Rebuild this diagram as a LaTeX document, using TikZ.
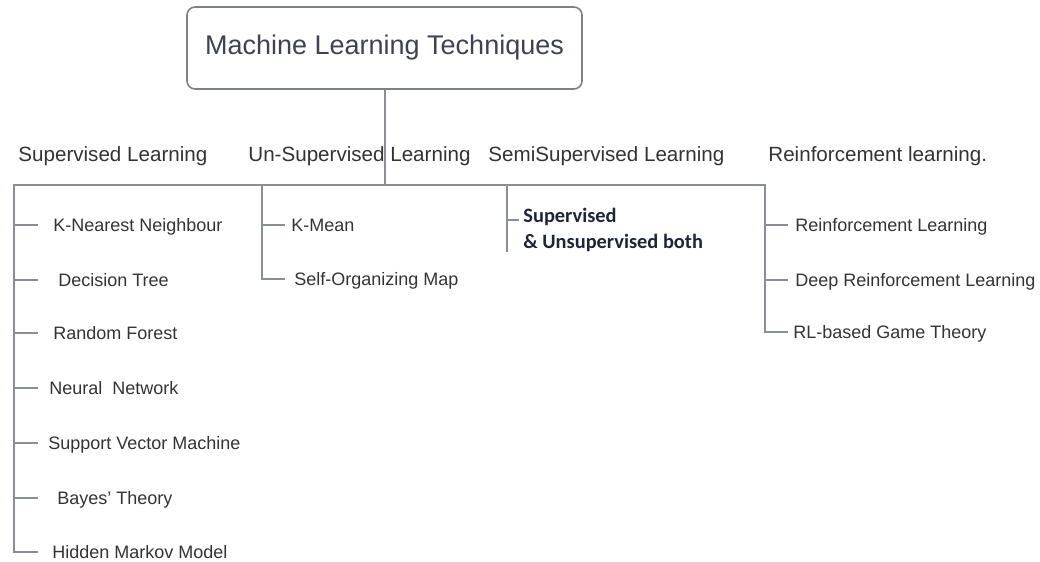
\documentclass[tikz,border=0pt]{standalone}
\usepackage{fontspec}
\setmainfont{Liberation Sans}
\newfontfamily\semifont{Carlito}
\usetikzlibrary{positioning}

\definecolor{linegray}{HTML}{8A8E95}
\definecolor{boxline}{HTML}{7D8188}
\definecolor{ink}{HTML}{333333}
\definecolor{rootink}{HTML}{3D4350}
\definecolor{semiink}{HTML}{1E2536}

\begin{document}
\begin{tikzpicture}[x=0.5pt, y=-0.5pt,
    root/.style={rectangle, draw=boxline, line width=0.8pt, rounded corners=4pt, minimum width=197.5pt, minimum height=41pt, font=\fontsize{13.5}{16}\selectfont, text=rootink},
    cat/.style={anchor=base west, inner sep=0pt, font=\fontsize{10.3}{12}\selectfont, text=ink},
    leaf/.style={anchor=west, inner ysep=0pt, inner xsep=#1, text height=6.45pt, text depth=0pt, font=\fontsize{9}{11}\selectfont, text=ink},
    leaf/.default=3pt,
    wire/.style={draw=linegray, line width=1pt}]
    \useasboundingbox (0,0) rectangle (1040,562);

    % top box
    \node[root] (mlt) at (384.5,48) {Machine Learning Techniques};

    % the four families
    \node[cat] (sup) at (18,161) {Supervised Learning};
    \node[cat] (uns) at (248,161) {Un-Supervised Learning};
    \node[cat] (semi) at (488,161) {SemiSupervised Learning};
    \node[cat] (rl) at (768,161) {Reinforcement learning.};

    \coordinate (supTop) at (14,185);
    \coordinate (unsTop) at (262,185);
    \coordinate (semiTop) at (507,185);
    \coordinate (rlTop) at (765,185);

    % supervised
    \node[leaf=7.5pt] (knn) at (38,225) {K-Nearest Neighbour};
    \node[leaf=10pt] (dt) at (38,280) {Decision Tree};
    \node[leaf=7.5pt] (rf) at (38,333) {Random Forest};
    \node[leaf=5.5pt] (nn) at (38,388) {Neural\ \ Network};
    \node[leaf=5pt] (svm) at (38,443) {Support Vector Machine};
    \node[leaf=9.5pt] (bt) at (38,498) {Bayes' Theory};
    \node[leaf=7pt] (hmm) at (38,552) {Hidden Markov Model};

    % unsupervised
    \node[leaf=3pt] (km) at (285,225) {K-Mean};
    \node[leaf=4.5pt] (som) at (285,279) {Self-Organizing Map};

    % semi-supervised
    \coordinate (semiTick) at (519,220);
    \coordinate (semiEnd) at (507,252);
    \node[anchor=north west, inner sep=0pt, align=left, font=\semifont\bfseries\fontsize{10.2}{13}\selectfont, text=semiink] (both) at (523,208) {Supervised\\\& Unsupervised both};

    % reinforcement
    \node[leaf=3.5pt] (rll) at (788,225) {Reinforcement Learning};
    \node[leaf=3.5pt] (drl) at (788,280) {Deep Reinforcement Learning};
    \node[leaf=2.5pt] (gt) at (788,332) {RL-based Game Theory};

    % tree lines
    \draw[wire] (mlt.south) -- (mlt.south |- supTop);
    \draw[wire] (hmm.west) -| (supTop) -- (rlTop) |- (gt.west);
    \foreach \n in {knn,dt,rf,nn,svm,bt}
        \draw[wire] (\n.west -| supTop) -- (\n.west);
    \draw[wire] (unsTop) |- (som.west);
    \draw[wire] (km.west -| unsTop) -- (km.west);
    \draw[wire] (semiTop) -- (semiEnd);
    \draw[wire] (semiTick -| semiTop) -- (semiTick);
    \foreach \n in {rll,drl}
        \draw[wire] (\n.west -| rlTop) -- (\n.west);
\end{tikzpicture}
\end{document}
